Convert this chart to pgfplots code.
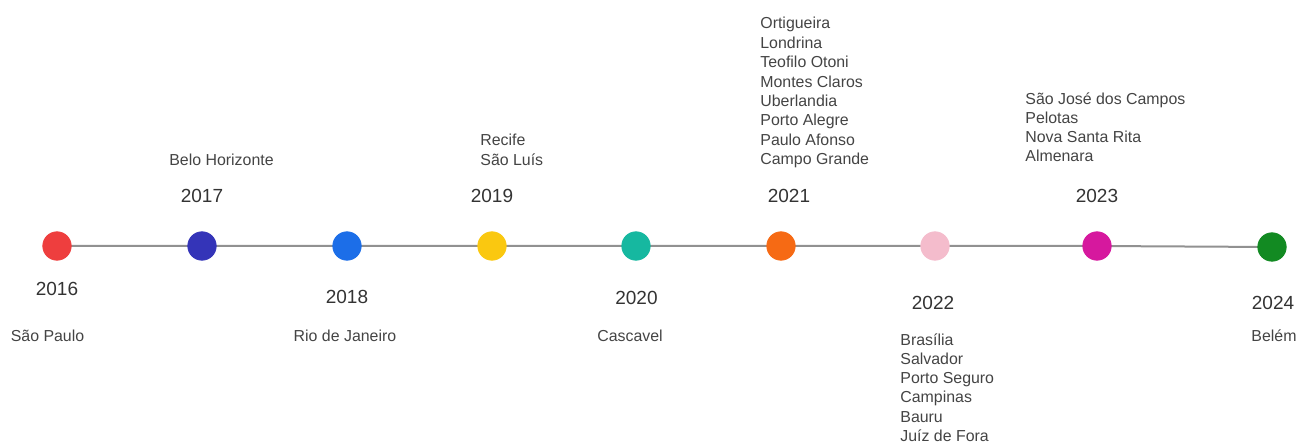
\documentclass[border=0pt]{standalone}
\usepackage{pgfplots}
\pgfplotsset{compat=1.18}
\usepackage{fontspec}
\setmainfont{Liberation Sans}

\definecolor{c2016}{RGB}{238,62,62}
\definecolor{c2017}{RGB}{52,52,184}
\definecolor{c2018}{RGB}{28,110,232}
\definecolor{c2019}{RGB}{250,200,16}
\definecolor{c2020}{RGB}{22,184,160}
\definecolor{c2021}{RGB}{246,106,20}
\definecolor{c2022}{RGB}{244,188,204}
\definecolor{c2023}{RGB}{214,24,158}
\definecolor{c2024}{RGB}{18,138,34}
\definecolor{yeartxt}{RGB}{51,51,51}
\definecolor{citytxt}{RGB}{68,68,68}
\definecolor{linegray}{RGB}{145,145,145}

\newcommand{\yearfont}{\fontsize{9.5}{11}\selectfont\color{yeartxt}}
\newcommand{\cityfont}{\fontsize{7.95}{9.7}\selectfont\color{citytxt}}

\tikzset{
  year/.style={anchor=base, inner sep=0pt, font=\yearfont},
  city/.style={anchor=base west, inner sep=0pt, font=\cityfont},
  cityc/.style={anchor=base, inner sep=0pt, font=\cityfont},
}

\begin{document}
\begin{tikzpicture}
\begin{axis}[
  scale only axis,
  width=649pt, height=222pt,
  xmin=0, xmax=1298,
  ymin=0, ymax=444,
  y dir=reverse,
  hide axis,
  clip=false,
]
% timeline
\addplot[linegray, line width=1pt] coordinates {(57,246) (1097,246) (1272,247)};

% milestones
\addplot[only marks, mark=*, mark size=7.1pt, c2016] coordinates {(57,246)};
\addplot[only marks, mark=*, mark size=7.1pt, c2017] coordinates {(202,246)};
\addplot[only marks, mark=*, mark size=7.1pt, c2018] coordinates {(347,246)};
\addplot[only marks, mark=*, mark size=7.1pt, c2019] coordinates {(492,246)};
\addplot[only marks, mark=*, mark size=7.1pt, c2020] coordinates {(636,246)};
\addplot[only marks, mark=*, mark size=7.1pt, c2021] coordinates {(781,246)};
\addplot[only marks, mark=*, mark size=7.1pt, c2022] coordinates {(935,246)};
\addplot[only marks, mark=*, mark size=7.1pt, c2023] coordinates {(1097,246)};
\addplot[only marks, mark=*, mark size=7.1pt, c2024] coordinates {(1272,247)};

% years
\node[year] at (axis cs:57,296) {2016};
\node[year] at (axis cs:202,203) {2017};
\node[year] at (axis cs:347,304) {2018};
\node[year] at (axis cs:492,203) {2019};
\node[year] at (axis cs:636.5,305) {2020};
\node[year] at (axis cs:789,203) {2021};
\node[year] at (axis cs:933,309) {2022};
\node[year] at (axis cs:1097,203) {2023};
\node[year] at (axis cs:1273,309) {2024};

% cities
\node[cityc] at (axis cs:47.5,341.5) {São Paulo};
\node[cityc] at (axis cs:221.5,166) {Belo Horizonte};
\node[cityc] at (axis cs:345,341.5) {Rio de Janeiro};
\node[city] at (axis cs:480,146) {Recife};
\node[city] at (axis cs:480,166) {São Luís};
\node[cityc] at (axis cs:630,341.5) {Cascavel};

\node[city] at (axis cs:760,29) {Ortigueira};
\node[city] at (axis cs:760,48.4) {Londrina};
\node[city] at (axis cs:760,67.8) {Teofilo Otoni};
\node[city] at (axis cs:760,87.2) {Montes Claros};
\node[city] at (axis cs:760,106.6) {Uberlandia};
\node[city] at (axis cs:760,126) {Porto Alegre};
\node[city] at (axis cs:760,145.4) {Paulo Afonso};
\node[city] at (axis cs:760,164.8) {Campo Grande};

\node[city] at (axis cs:900,345) {Brasília};
\node[city] at (axis cs:900,364.3) {Salvador};
\node[city] at (axis cs:900,383.6) {Porto Seguro};
\node[city] at (axis cs:900,402.9) {Campinas};
\node[city] at (axis cs:900,422.2) {Bauru};
\node[city] at (axis cs:900,441.5) {Juíz de Fora};

\node[city] at (axis cs:1025,105) {São José dos Campos};
\node[city] at (axis cs:1025,123.9) {Pelotas};
\node[city] at (axis cs:1025,142.8) {Nova Santa Rita};
\node[city] at (axis cs:1025,161.7) {Almenara};

\node[cityc] at (axis cs:1274,341.5) {Belém};
\end{axis}
% page is exactly the axis area
\pgfresetboundingbox
\path[use as bounding box] (current axis.south west) rectangle (current axis.north east);
\end{tikzpicture}
\end{document}
